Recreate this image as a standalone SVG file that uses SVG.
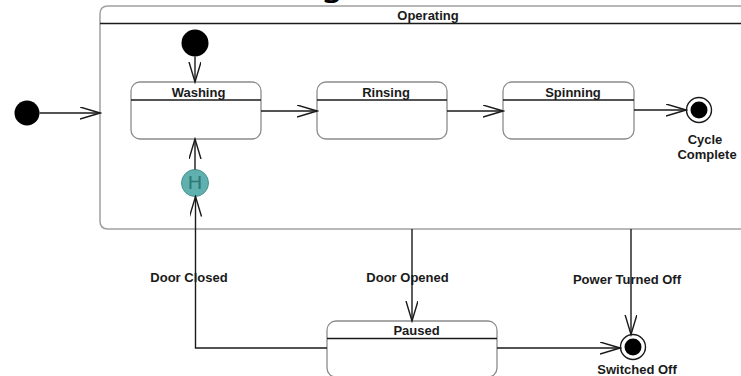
<svg xmlns="http://www.w3.org/2000/svg" width="741" height="376" viewBox="0 0 741 376">
  <style>
    .lbl { font-family: "Liberation Sans", Arial, sans-serif; font-weight: bold; font-size: 13px; fill: #1a1a1a; text-anchor: middle; }
    .state { fill: #ffffff; stroke: #8c8c8c; stroke-width: 1.3; }
    .divider { stroke: #1a1a1a; stroke-width: 1.3; }
    .edge { fill: none; stroke: #1a1a1a; stroke-width: 1.4; }
    .solid { fill: #000000; }
  </style>
  <defs>
    <marker id="open" markerUnits="userSpaceOnUse" markerWidth="22" markerHeight="14" refX="20" refY="6" orient="auto">
      <path d="M0,0 L20,6 L0,12" fill="none" stroke="#1a1a1a" stroke-width="1.4"/>
    </marker>
  </defs>

  <rect width="741" height="376" fill="#ffffff"/>

  <!-- title, mostly above the visible area -->
  <text x="320" y="-5" font-family="DejaVu Sans, sans-serif" font-size="38" fill="#000">g</text>

  <!-- composite state: Operating -->
  <g id="operating">
    <path d="M100,221 L100,14 Q100,6 108,6 L760,6" fill="none" stroke="#a0a0a0" stroke-width="1.5"/>
    <path d="M108,229 Q100,229 100,221" fill="none" stroke="#a0a0a0" stroke-width="1.5"/>
    <line x1="108" y1="229" x2="741" y2="229" stroke="#a0a0a0" stroke-width="1.5"/>
    <line x1="100" y1="23.5" x2="741" y2="23.5" class="divider"/>
    <text x="428" y="20" class="lbl">Operating</text>
  </g>

  <g id="initial-outer"><circle cx="27" cy="113" r="12.5" class="solid"/></g>
  <g id="initial-inner"><circle cx="195" cy="43" r="13.5" class="solid"/></g>

  <g id="washing">
    <rect x="131" y="82" width="130" height="57" rx="9" class="state"/>
    <line x1="131" y1="100" x2="261" y2="100" class="divider"/>
    <text x="198.5" y="97" class="lbl">Washing</text>
  </g>
  <g id="rinsing">
    <rect x="317" y="82" width="130" height="57" rx="9" class="state"/>
    <line x1="317" y1="100" x2="447" y2="100" class="divider"/>
    <text x="386" y="97" class="lbl">Rinsing</text>
  </g>
  <g id="spinning">
    <rect x="503" y="82" width="131" height="57" rx="9" class="state"/>
    <line x1="503" y1="100" x2="634" y2="100" class="divider"/>
    <text x="573" y="97" class="lbl">Spinning</text>
  </g>

  <g id="cycle-complete">
    <circle cx="699" cy="110" r="12.5" fill="#ffffff" stroke="#1a1a1a" stroke-width="1.4"/>
    <circle cx="699" cy="110" r="8.5" class="solid"/>
    <text x="705" y="144" class="lbl" font-size="12">Cycle</text>
    <text x="707" y="159" class="lbl" font-size="12">Complete</text>
  </g>

  <g id="history">
    <circle cx="195" cy="183" r="13.5" fill="#5fb0ae" stroke="#4a9593" stroke-width="1"/>
    <text x="195" y="189" font-family="DejaVu Sans, sans-serif" font-size="17" fill="#2f7a78" text-anchor="middle" textLength="15" lengthAdjust="spacingAndGlyphs">H</text>
  </g>

  <g id="paused">
    <rect x="327" y="321" width="170" height="56" rx="9" class="state"/>
    <line x1="327" y1="338.5" x2="497" y2="338.5" class="divider"/>
    <text x="416.5" y="335" class="lbl">Paused</text>
  </g>

  <g id="switched-off">
    <circle cx="633" cy="347" r="12.5" fill="#ffffff" stroke="#1a1a1a" stroke-width="1.4"/>
    <circle cx="633" cy="347" r="8.5" class="solid"/>
    <text x="637" y="374" class="lbl" font-size="12">Switched Off</text>
  </g>

  <g id="connectors">
    <line x1="39.5" y1="113" x2="100" y2="113" class="edge" marker-end="url(#open)"/>
    <line x1="195" y1="56.5" x2="195" y2="82" class="edge" marker-end="url(#open)"/>
    <line x1="261" y1="111" x2="317" y2="111" class="edge" marker-end="url(#open)"/>
    <line x1="447" y1="111" x2="503" y2="111" class="edge" marker-end="url(#open)"/>
    <line x1="634" y1="110" x2="686" y2="110" class="edge" marker-end="url(#open)"/>
    <line x1="195" y1="169.5" x2="195" y2="139" class="edge" marker-end="url(#open)"/>
    <polyline points="327,348 195.5,348 195.5,196.5" class="edge" marker-end="url(#open)"/>
    <line x1="412" y1="229" x2="412" y2="321" class="edge" marker-end="url(#open)"/>
    <line x1="497" y1="348" x2="620" y2="348" class="edge" marker-end="url(#open)"/>
    <line x1="631" y1="229" x2="631" y2="334.5" class="edge" marker-end="url(#open)"/>
    <text x="189" y="282" class="lbl">Door Closed</text>
    <text x="407.5" y="282" class="lbl">Door Opened</text>
    <text x="627" y="284" class="lbl">Power Turned Off</text>
  </g>
</svg>
